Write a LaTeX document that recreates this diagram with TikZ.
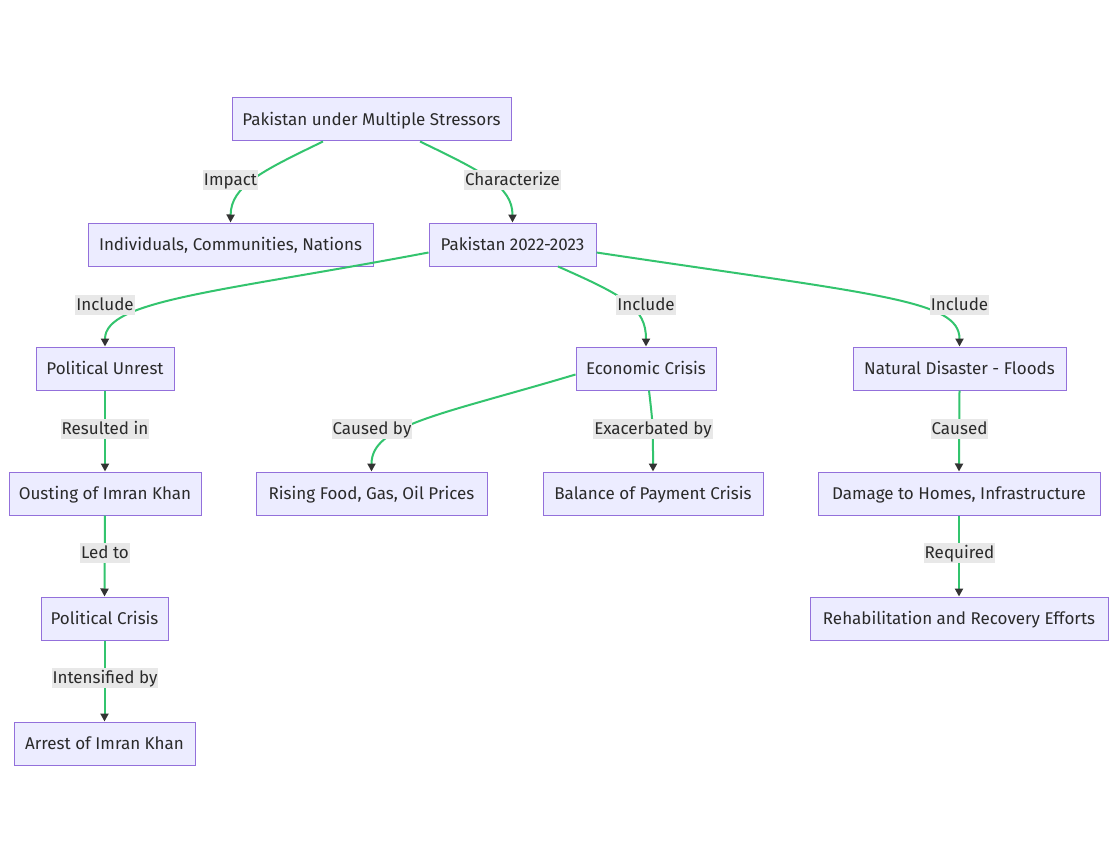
\documentclass[tikz,border=0pt]{standalone}
\usepackage{fontspec}
\setmainfont{Fira Sans}
\usetikzlibrary{arrows.meta}
\definecolor{nodefill}{HTML}{ECECFF}
\definecolor{nodeline}{HTML}{9370DB}
\definecolor{edgecol}{HTML}{33C46E}
\definecolor{tipcol}{HTML}{333333}
\definecolor{lblbg}{HTML}{E8E8E8}
\definecolor{txt}{HTML}{2A2A2A}
\tikzset{
  box/.style={draw=nodeline, fill=nodefill, line width=1pt, inner sep=0pt,
    minimum height=43pt, text height=12pt, text depth=0pt, text=txt, font=\fontsize{17}{20}\selectfont},
  lbl/.style={fill=lblbg, inner xsep=1pt, inner ysep=1.5pt, text height=14pt, text depth=3pt, text=txt, font=\fontsize{17}{20}\selectfont},
  link/.style={draw=edgecol, line width=2pt, -{Triangle[color=tipcol,length=8pt,width=8pt]}},
}
\begin{document}
\begin{tikzpicture}[x=1pt,y=-1pt]
\useasboundingbox (0,0) rectangle (1116,864);
\fill[white] (0,0) rectangle (1116,864);
% nodes
\node[box, minimum width=279pt] (s) at (371.5,119.5) {Pakistan under Multiple Stressors};
\node[box, minimum width=285pt] (icn) at (230.5,244.5) {Individuals, Communities, Nations};
\node[box, minimum width=167pt] (pk) at (512.5,244.5) {Pakistan 2022-2023};
\node[box, minimum width=138pt] (pu) at (105,368.5) {Political Unrest};
\node[box, minimum width=140pt] (ec) at (646,368.5) {Economic Crisis};
\node[box, minimum width=213pt] (nd) at (959.5,368.5) {Natural Disaster - Floods};
\node[box, minimum width=192pt] (oi) at (105,493.5) {Ousting of Imran Khan};
\node[box, minimum width=231pt] (rf) at (371.5,493.5) {Rising Food, Gas, Oil Prices};
\node[box, minimum width=220pt] (bp) at (653,493.5) {Balance of Payment Crisis};
\node[box, minimum width=282pt] (dh) at (959,493.5) {Damage to Homes, Infrastructure};
\node[box, minimum width=127pt] (pc) at (104.5,618.5) {Political Crisis};
\node[box, minimum width=298pt] (rr) at (959,618.5) {Rehabilitation and Recovery Efforts};
\node[box, minimum width=181pt] (ai) at (104.5,743.5) {Arrest of Imran Khan};
% edges
\draw[link] ([xshift=-48.5pt]s.south) .. controls (262,171) and (231,186) .. (icn.north);
\draw[link] ([xshift=48.5pt]s.south) .. controls (481,171) and (512.5,186) .. (pk.north);
\draw[link] ([yshift=-8pt]pk.west) .. controls (220,292) and (105,300) .. (pu.north);
\draw[link] ([xshift=45.5pt]pk.south) .. controls (625,296) and (646,308) .. (ec.north);
\draw[link] ([yshift=-8pt]pk.east) .. controls (880,295) and (959.5,300) .. (nd.north);
\draw[link] (pu.south) -- (oi.north);
\draw[link] ([yshift=-6pt]ec.west) .. controls (440,415) and (371.5,425) .. (rf.north);
\draw[link] ([xshift=3pt]ec.south) .. controls (653,425) .. (bp.north);
\draw[link] (nd.south) -- (dh.north);
\draw[link] (oi.south) -- (pc.north);
\draw[link] (dh.south) -- (rr.north);
\draw[link] (pc.south) -- (ai.north);
% labels
\node[lbl] (l1) at (230.5,180) {Impact};
\node[lbl] (l2) at (512.5,180) {Characterize};
\node[lbl] (l3) at (105,305) {Include};
\node[lbl] (l4) at (646,305) {Include};
\node[lbl] (l5) at (959.5,305) {Include};
\node[lbl] (l6) at (105,429) {Resulted in};
\node[lbl] (l7) at (372,429) {Caused by};
\node[lbl] (l8) at (653,429) {Exacerbated by};
\node[lbl] (l9) at (959.5,429) {Caused};
\node[lbl] (l10) at (105,553) {Led to};
\node[lbl] (l11) at (959.5,553) {Required};
\node[lbl] (l12) at (105,678) {Intensified by};
\end{tikzpicture}
\end{document}
